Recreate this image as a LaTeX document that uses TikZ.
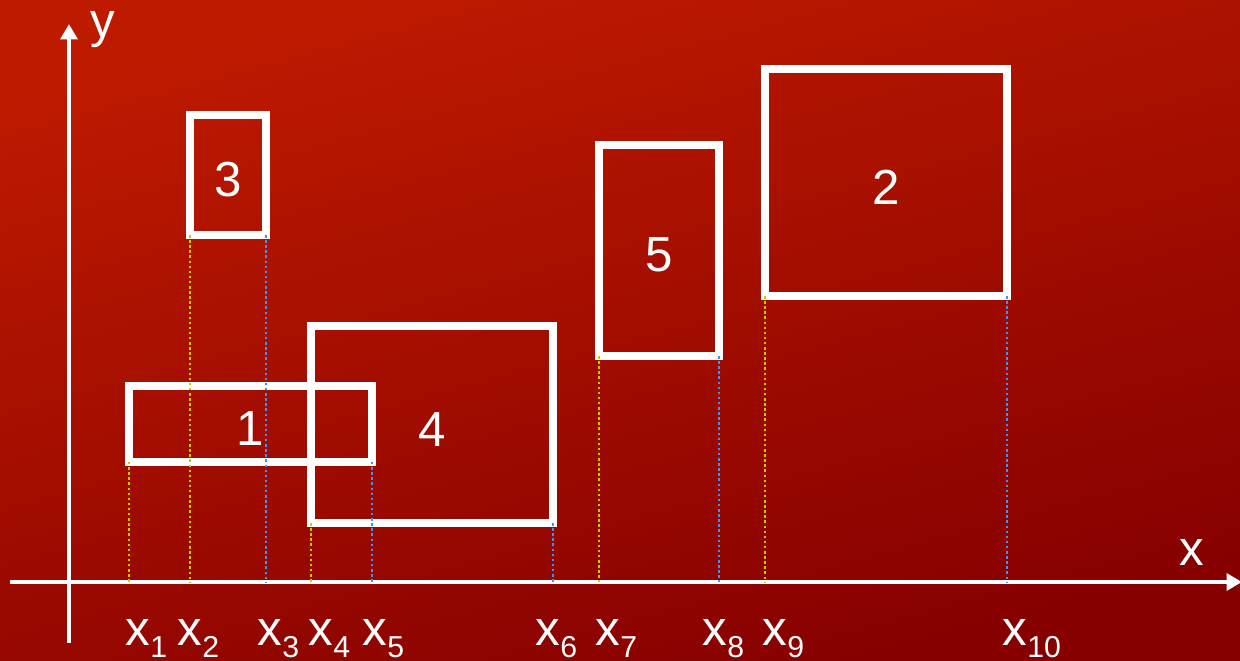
\documentclass[tikz,border=0pt]{standalone}
\usepackage{fontspec}
\setmainfont{Liberation Sans}
\usetikzlibrary{arrows.meta}
\definecolor{bgtop}{RGB}{190,26,0}
\definecolor{bgbot}{RGB}{134,0,0}
\definecolor{tickyel}{RGB}{196,204,0}
\definecolor{tickblu}{RGB}{60,150,240}
\newcommand{\xsub}[1]{x\raisebox{-3.6pt}{\fontsize{8.6}{9}\selectfont #1}}

\begin{document}
\begin{tikzpicture}[x=0.01cm,y=-0.01cm,
  box/.style={draw=white,line width=2.3pt,inner sep=0,outer sep=0,text=white,text height=0.43cm,font=\fontsize{14}{16}\selectfont},
  axis/.style={white,line width=1.4pt,-{Triangle[length=4.4pt,width=4.8pt]}},
  lowtick/.style={tickyel,line width=0.8pt,dash pattern=on 0.7pt off 0.75pt},
  hightick/.style={tickblu,line width=0.8pt,dash pattern=on 0.7pt off 0.75pt},
  xlab/.style={anchor=base west,inner sep=0,text=white,font=\fontsize{14}{16}\selectfont}]
\shade[top color=bgtop,bottom color=bgbot,shading angle=15] (0,0) rectangle (1240,660);
\useasboundingbox (0,0) rectangle (1240,660);

% axes
\coordinate (xa0) at (10,582); \coordinate (xa1) at (1242,582);
\coordinate (ya0) at (69,643); \coordinate (ya1) at (69,24);
\draw[axis] (xa0) -- (xa1);
\draw[axis] (ya0) -- (ya1);
\node[xlab] (ylab) at (90,37) {y};
\node[xlab] (xlab) at (1179,565) {x};

% rectangles
\node[box,minimum width=2.43cm,minimum height=0.76cm] (r1) at (250.5,424) {1};
\node[box,minimum width=2.42cm,minimum height=2.27cm] (r2) at (886,182.5) {2};
\node[box,minimum width=0.76cm,minimum height=1.20cm] (r3) at (228,175) {3};
\node[box,minimum width=2.42cm,minimum height=1.97cm] (r4) at (432,424.5) {4};
\node[box,minimum width=1.20cm,minimum height=2.11cm] (r5) at (659,250.5) {5};

% projections
\foreach \r in {r1,r2,r3,r4,r5}{
  \draw[lowtick] (\r.south west) -- (\r.south west |- xa0);
  \draw[hightick] (\r.south east) -- (\r.south east |- xa0);
}

% labels
\node[xlab] (x1) at (125,645) {\xsub{1}};
\node[xlab] (x2) at (177,645) {\xsub{2}};
\node[xlab] (x3) at (257,645) {\xsub{3}};
\node[xlab] (x4) at (308,645) {\xsub{4}};
\node[xlab] (x5) at (362,645) {\xsub{5}};
\node[xlab] (x6) at (535,645) {\xsub{6}};
\node[xlab] (x7) at (595,645) {\xsub{7}};
\node[xlab] (x8) at (702,645) {\xsub{8}};
\node[xlab] (x9) at (762,645) {\xsub{9}};
\node[xlab] (x10) at (1002,645) {\xsub{10}};
\end{tikzpicture}
\end{document}
